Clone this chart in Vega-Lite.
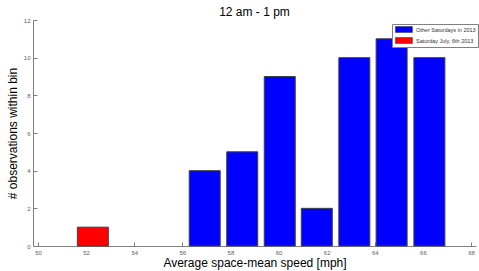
{
  "$schema": "https://vega.github.io/schema/vega-lite/v6.json",
  "width": 443,
  "height": 226,
  "autosize": "none",
  "padding": {"left": 33, "top": 20, "right": 3, "bottom": 25},
  "background": "white",
  "config": {
    "view": {"stroke": null},
    "font": "Liberation Sans"
  },
  "title": {"text": "12 am - 1 pm", "fontSize": 12, "fontWeight": "normal", "font": "Liberation Sans", "color": "#000000", "offset": -2, "anchor": "middle"},
  "data": {
    "values": [
      {"speed": 52.28, "count": 1, "group": "Saturday July, 6th 2013"},
      {"speed": 56.93, "count": 4, "group": "Other Saturdays in 2013"},
      {"speed": 58.49, "count": 5, "group": "Other Saturdays in 2013"},
      {"speed": 60.05, "count": 9, "group": "Other Saturdays in 2013"},
      {"speed": 61.59, "count": 2, "group": "Other Saturdays in 2013"},
      {"speed": 63.15, "count": 10, "group": "Other Saturdays in 2013"},
      {"speed": 64.70, "count": 11, "group": "Other Saturdays in 2013"},
      {"speed": 66.27, "count": 10, "group": "Other Saturdays in 2013"}
    ]
  },
  "mark": {"type": "bar", "width": 31, "stroke": "#404040", "strokeWidth": 1},
  "encoding": {
    "x": {
      "field": "speed", "type": "quantitative",
      "scale": {"domain": [50, 68], "nice": false, "zero": false},
      "axis": {
        "title": "Average space-mean speed [mph]",
        "titleFontSize": 12, "titleFontWeight": "normal", "titleColor": "#000000", "titlePadding": 2,
        "values": [50, 52, 54, 56, 58, 60, 62, 64, 66, 68],
        "grid": false, "domainColor": "#808080", "tickColor": "#808080",
        "tickSize": -4, "labelPadding": 7,
        "labelFontSize": 6, "labelColor": "#606060",
        "labelBound": false, "labelOverlap": false, "labelFlush": false
      }
    },
    "y": {
      "field": "count", "type": "quantitative",
      "scale": {"domain": [0, 12], "nice": false},
      "axis": {
        "title": "# observations within bin",
        "titleFontSize": 12, "titleFontWeight": "normal", "titleColor": "#000000", "titlePadding": 4,
        "values": [0, 2, 4, 6, 8, 10, 12],
        "grid": false, "domainColor": "#808080", "tickColor": "#808080",
        "tickSize": -4, "labelPadding": 7,
        "labelFontSize": 6, "labelColor": "#606060"
      }
    },
    "color": {
      "field": "group", "type": "nominal",
      "scale": {"domain": ["Other Saturdays in 2013", "Saturday July, 6th 2013"], "range": ["#0000FF", "#FF0000"]},
      "legend": {
        "title": null, "orient": "none", "legendX": 359, "legendY": 4,
        "fillColor": "white", "strokeColor": "#808080", "padding": 2,
        "symbolType": "M-0.7,-1H4.97V1H-0.7Z", "symbolSize": 36,
        "symbolStrokeColor": "#333333", "symbolStrokeWidth": 0.5, "symbolOpacity": 1,
        "labelFontSize": 5.5, "labelColor": "#333333", "rowPadding": 2, "labelOffset": 15
      }
    }
  }
}
